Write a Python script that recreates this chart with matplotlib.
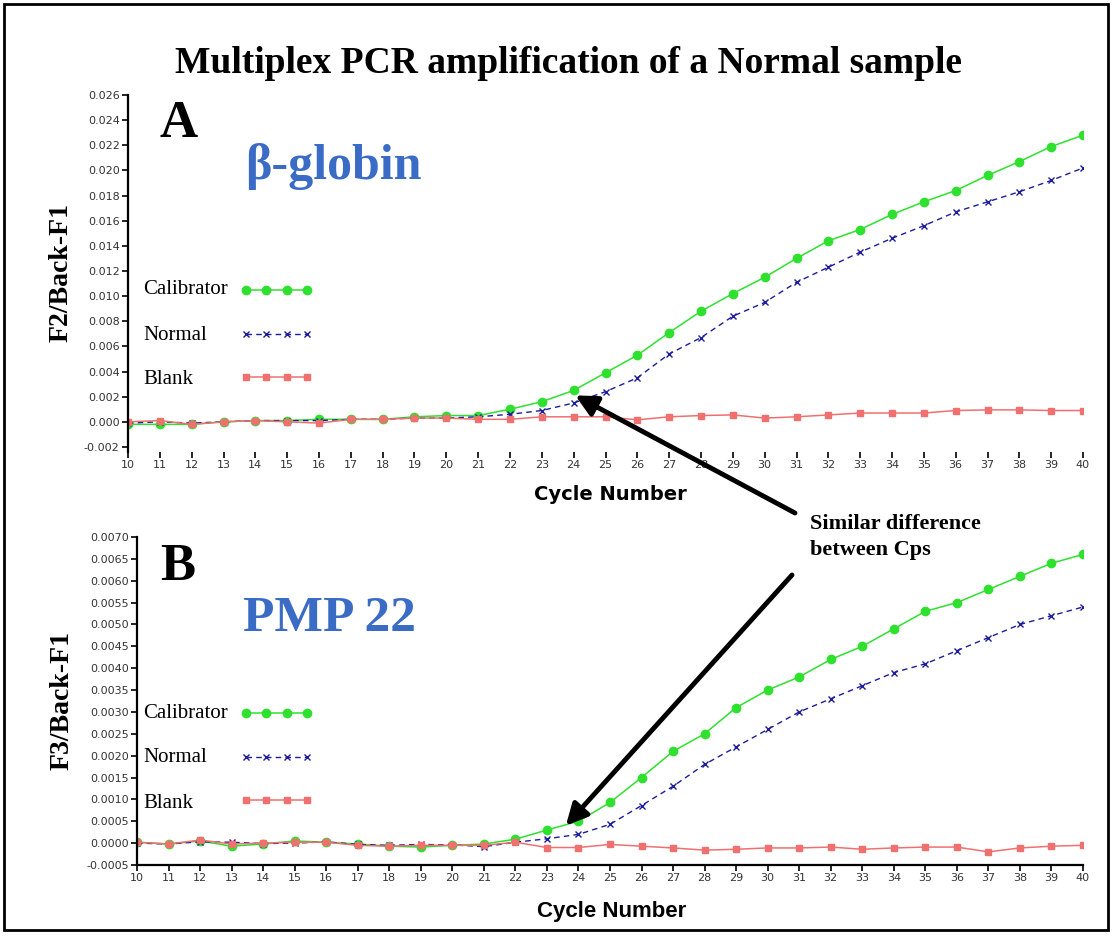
import matplotlib
matplotlib.use("Agg")
import matplotlib.pyplot as plt
from matplotlib.patches import Rectangle

cycles = list(range(10, 41))
series_names = ["Calibrator", "Normal", "Blank"]

# panel A (beta-globin), F2/Back-F1
a_calibrator = [-0.0002, -0.0002, -0.0002, 0.0, 0.0001, 0.0001, 0.0002, 0.0002, 0.0002, 0.0004,
                0.0005, 0.0005, 0.0010, 0.0016, 0.0025, 0.0039, 0.0053, 0.0071, 0.0088, 0.0102,
                0.0115, 0.0130, 0.0144, 0.0153, 0.0165, 0.0175, 0.0184, 0.0196, 0.0207, 0.0219, 0.0228]
a_normal = [-0.0001, 0.0, -0.0001, 0.0, 0.0001, 0.0001, 0.0001, 0.0002, 0.0002, 0.0003,
            0.0003, 0.0004, 0.0006, 0.0009, 0.0015, 0.0024, 0.0035, 0.0054, 0.0067, 0.0084,
            0.0095, 0.0111, 0.0123, 0.0135, 0.0146, 0.0156, 0.0167, 0.0175, 0.0183, 0.0192, 0.0202]
a_blank = [0.0, 0.0001, -0.0002, 0.0, 0.0001, 0.0, -0.0001, 0.0002, 0.0002, 0.0003,
           0.0003, 0.0002, 0.0002, 0.0004, 0.0004, 0.0004, 0.00016, 0.0004, 0.0005, 0.00055,
           0.0003, 0.0004, 0.00055, 0.0007, 0.0007, 0.0007, 0.0009, 0.00095, 0.00095, 0.0009, 0.0009]

# panel B (PMP 22), F3/Back-F1
b_calibrator = [0.00002, -0.00002, 0.00005, -0.00007, -0.00002, 0.00005, 0.00002, -0.00002, -0.00007, -0.00009,
                -0.00005, -0.00002, 0.00009, 0.0003, 0.0005, 0.00093, 0.0015, 0.0021, 0.0025, 0.0031,
                0.0035, 0.0038, 0.0042, 0.0045, 0.0049, 0.0053, 0.0055, 0.0058, 0.0061, 0.0064, 0.0066]
b_normal = [0.0, -0.00002, 0.00003, 0.00002, -0.00001, 0.0, 0.00003, -0.00003, -0.00005, -0.00003,
            -0.00004, -0.00008, 0.00002, 0.0001, 0.0002, 0.00043, 0.00086, 0.0013, 0.0018, 0.0022,
            0.0026, 0.0030, 0.0033, 0.0036, 0.0039, 0.0041, 0.0044, 0.0047, 0.0050, 0.0052, 0.0054]
b_blank = [0.00002, -0.00002, 0.00007, -0.00002, 0.0, 0.00002, 0.00002, -0.00005, -0.00007, -0.00005,
           -0.00005, -0.00005, 0.00002, -0.0001, -0.0001, -0.00003, -0.00007, -0.00011, -0.00016, -0.00014,
           -0.00011, -0.00011, -0.00009, -0.00014, -0.00011, -0.00009, -0.00009, -0.0002, -0.00011, -0.00007, -0.00005]

a_yticks = [i * 0.002 for i in range(-1, 14)]
b_yticks = [i * 0.0005 for i in range(-1, 15)]

GREEN = "#2fe02f"
BLUE = "#1c1c9c"
RED = "#f07070"
TITLE_BLUE = "#3a6cc6"
SERIF = "Liberation Serif"
W, H = 1114, 936

fig = plt.figure(figsize=(W / 100, H / 100), dpi=100)
fig.patches.append(Rectangle((4 / W, 6 / H), 1104 / W, 926 / H, transform=fig.transFigure,
                             fill=False, edgecolor="black", linewidth=2))

fig.text(0.51, 0.932, "Multiplex PCR amplification of a Normal sample", ha="center", va="center",
         family=SERIF, fontweight="bold", fontsize=27)

ax1 = fig.add_axes([128 / W, 1 - 452 / H, (1083 - 128) / W, (452 - 95) / H])
ax2 = fig.add_axes([137 / W, 1 - 865 / H, (1083 - 137) / W, (865 - 537) / H])


def draw_panel(ax, cal, nor, bla, yticks, ylim, fmt, bottom_spine, legend_top):
    ax.plot(cycles, cal, color=GREEN, lw=1.1, marker="o", ms=6, mec=GREEN, label=series_names[0])
    ax.plot(cycles, nor, color=BLUE, lw=1.0, ls=(0, (4, 3)), marker="x", ms=5, mew=1.0, label=series_names[1])
    ax.plot(cycles, bla, color=RED, lw=1.1, marker="s", ms=5, mec=RED, label=series_names[2])
    ax.set_xlim(10, 40)
    ax.set_ylim(*ylim)
    ax.set_xticks(cycles)
    ax.set_yticks(yticks)
    ax.set_yticklabels([fmt.format(v) for v in yticks])
    for s in ["top", "right"]:
        ax.spines[s].set_visible(False)
    ax.spines["bottom"].set_visible(bottom_spine)
    ax.spines["left"].set_linewidth(1.6)
    ax.spines["bottom"].set_linewidth(1.6)
    ax.tick_params(axis="both", labelsize=8, labelcolor="#333333", length=4, width=1.2, pad=2)
    ax.set_facecolor("none")

    # legend: handles from matplotlib, labels drawn left-aligned to the left of them
    ax.legend(loc="upper left", bbox_to_anchor=(240 / W, 1 - legend_top / H),
              bbox_transform=fig.transFigure, frameon=False, numpoints=4, handlelength=3.5,
              handletextpad=0.3, labelspacing=1.15, borderaxespad=0, borderpad=0,
              labelcolor="none", prop={"family": SERIF, "size": 15})
    for i, name in enumerate(series_names):
        fig.text(143 / W, 1 - (legend_top + 7 + 45 * i) / H, name, family=SERIF, fontsize=15,
                 ha="left", va="center")


draw_panel(ax1, a_calibrator, a_normal, a_blank, a_yticks, (-0.0024, 0.026), "{:.3f}", False, 283)
draw_panel(ax2, b_calibrator, b_normal, b_blank, b_yticks, (-0.0005, 0.0070), "{:.4f}", True, 706)

# panel letters and gene names
fig.text(160 / W, 1 - 124 / H, "A", family=SERIF, fontweight="bold", fontsize=38, va="center")
fig.text(245 / W, 1 - 167 / H, "β-globin", family=SERIF, fontweight="bold", fontsize=36,
         color=TITLE_BLUE, va="center")
fig.text(160 / W, 1 - 567 / H, "B", family=SERIF, fontweight="bold", fontsize=38, va="center")
fig.text(243 / W, 1 - 619 / H, "PMP 22", family=SERIF, fontweight="bold", fontsize=37,
         color=TITLE_BLUE, va="center")

# axis labels
fig.text(61 / W, 1 - 272 / H, "F2/Back-F1", family=SERIF, fontweight="bold", fontsize=20,
         rotation=90, ha="center", va="center")
fig.text(62 / W, 1 - 701 / H, "F3/Back-F1", family=SERIF, fontweight="bold", fontsize=20,
         rotation=90, ha="center", va="center")
fig.text(610 / W, 1 - 495 / H, "Cycle Number", family="DejaVu Sans", fontweight="bold",
         fontsize=14, ha="center", va="center")
fig.text(612 / W, 1 - 912 / H, "Cycle Number", family="Liberation Sans", fontweight="bold",
         fontsize=16, ha="center", va="center")

# annotation
fig.text(810 / W, 1 - 537 / H, "Similar difference\nbetween Cps", family=SERIF,
         fontweight="bold", fontsize=16, ha="left", va="center", linespacing=1.45)
arrow = dict(arrowstyle="-|>", color="black", lw=3.5, mutation_scale=32, shrinkA=0, shrinkB=0)
ax1.annotate("", xy=(24.05, 0.0021), xytext=(795 / W, 1 - 513 / H),
             textcoords="figure fraction", arrowprops=arrow, annotation_clip=False)
ax2.annotate("", xy=(23.6, 0.0004), xytext=(792 / W, 1 - 575 / H),
             textcoords="figure fraction", arrowprops=arrow, annotation_clip=False)

fig.savefig("out.png", dpi=100)
